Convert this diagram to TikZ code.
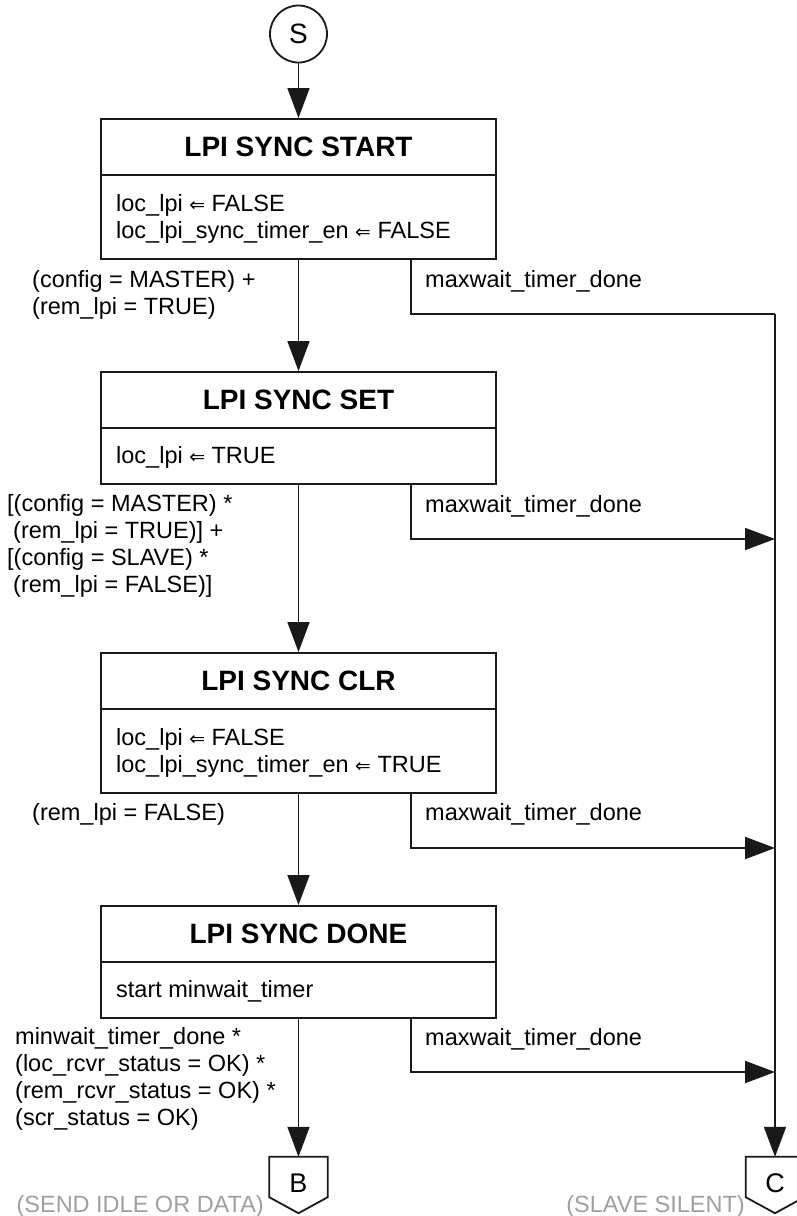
\documentclass[tikz,border=0pt]{standalone}
\usepackage{fontspec}
\setmainfont{Liberation Sans}
\newfontfamily\arrowfont[Scale=0.8]{DejaVu Sans}
\usetikzlibrary{arrows.meta}
\newcommand{\assign}{{\arrowfont ⇐}}
\tikzset{
  wire/.style={line width=1.8pt, draw=black!90},
  arr/.style={wire, -{Triangle[length=30pt,width=22pt]}},
  hdr/.style={draw=black!90, line width=1.8pt, minimum width=395pt, minimum height=56pt,
              inner sep=0pt, anchor=north, font=\bfseries\fontsize{28}{30}\selectfont},
  bodybox/.style={draw=black!90, line width=1.8pt, minimum width=395pt, inner sep=0pt, anchor=north},
  txt/.style={inner sep=0pt, anchor=base west, align=left, font=\fontsize{23.5}{26.7}\selectfont},
  note/.style={inner sep=0pt, anchor=base east, text=gray!75, font=\fontsize{23.5}{26.7}\selectfont},
  offpage/.style={inner sep=0pt, minimum width=58pt, minimum height=40pt},
  letter/.style={inner sep=0pt, anchor=base, font=\fontsize{27}{30}\selectfont},
}
\begin{document}
\begin{tikzpicture}[x=1pt, y=-1pt]
\useasboundingbox (0,0) rectangle (796,1216);

% start symbol
\node[draw=black!90, circle, line width=1.8pt, minimum size=57pt, inner sep=0pt,
      font=\fontsize{28}{28}\selectfont] (S) at (298.5,34) {S};

% states (multi-line texts are placed by the baseline of their last line)
\node[hdr] (t1) at (298.5,118) {LPI SYNC START};
\node[bodybox, minimum height=84pt] (b1) at (298.5,174) {};
\node[txt] (x1) at (116,238.5) {loc\_lpi \assign{} FALSE\\loc\_lpi\_sync\_timer\_en \assign{} FALSE};

\node[hdr] (t2) at (298.5,371) {LPI SYNC SET};
\node[bodybox, minimum height=56pt] (b2) at (298.5,427) {};
\node[txt] (x2) at (116,463) {loc\_lpi \assign{} TRUE};

\node[hdr] (t3) at (298.5,652) {LPI SYNC CLR};
\node[bodybox, minimum height=84pt] (b3) at (298.5,708) {};
\node[txt] (x3) at (116,772.5) {loc\_lpi \assign{} FALSE\\loc\_lpi\_sync\_timer\_en \assign{} TRUE};

\node[hdr] (t4) at (298.5,905) {LPI SYNC DONE};
\node[bodybox, minimum height=56pt] (b4) at (298.5,961) {};
\node[txt] (x4) at (116,997) {start minwait\_timer};

% off-page connectors
\node[offpage] (B) at (298.5,1177) {};
\draw[wire] (B.north west) -- (B.north east) -- (B.south east)
  -- ([yshift=-16pt]B.south) -- (B.south west) -- cycle;
\node[letter] (Bl) at (298.5,1192) {B};
\node[note] (Bn) at (264,1212) {(SEND IDLE OR DATA)};

\node[offpage] (C) at (775,1177) {};
\draw[wire] (C.north west) -- (C.north east) -- (C.south east)
  -- ([yshift=-16pt]C.south) -- (C.south west) -- cycle;
\node[letter] (Cl) at (775,1192) {C};
\node[note] (Cn) at (745,1212) {(SLAVE SILENT)};

% main transitions
\draw[arr] (S) -- (t1);
\draw[arr] (b1) -- (t2);
\draw[arr] (b2) -- (t3);
\draw[arr] (b3) -- (t4);
\draw[arr] (b4) -- (B);

% timeout branches to the common trunk
\coordinate (m1) at (775,314);
\coordinate (m2) at (775,539);
\coordinate (m3) at (775,848);
\coordinate (m4) at (775,1072);
\draw[wire] ([xshift=-86pt]b1.south east) |- (m1);
\draw[arr] ([xshift=-86pt]b2.south east) |- (m2);
\draw[arr] ([xshift=-86pt]b3.south east) |- (m3);
\draw[arr] ([xshift=-86pt]b4.south east) |- (m4);
\draw[arr] (m1) -- (C);

% transition conditions
\node[txt] (c1) at (32,314) {(config = MASTER) +\\(rem\_lpi = TRUE)};
\node[txt] (c2) at (7,592) {{[}(config = MASTER) *\\\hspace*{6pt}(rem\_lpi = TRUE)] +\\{[}(config = SLAVE) *\\\hspace*{6pt}(rem\_lpi = FALSE)]};
\node[txt] (c3) at (32,820) {(rem\_lpi = FALSE)};
\node[txt] (c4) at (15,1125) {minwait\_timer\_done *\\(loc\_rcvr\_status = OK) *\\(rem\_rcvr\_status = OK) *\\(scr\_status = OK)};

\node[txt] (w1) at (425,287) {maxwait\_timer\_done};
\node[txt] (w2) at (425,512) {maxwait\_timer\_done};
\node[txt] (w3) at (425,820) {maxwait\_timer\_done};
\node[txt] (w4) at (425,1045) {maxwait\_timer\_done};
\end{tikzpicture}
\end{document}
